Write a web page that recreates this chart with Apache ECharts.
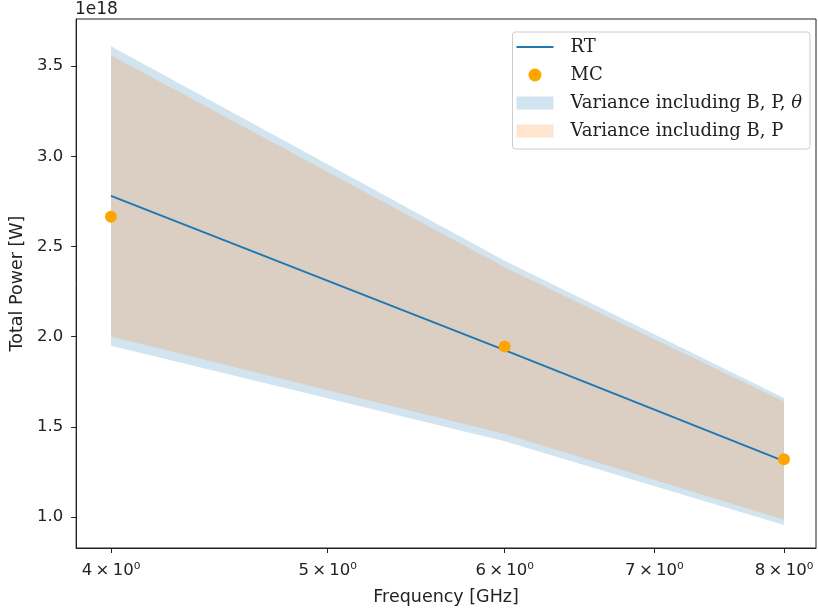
<!DOCTYPE html>
<html>
<head>
<meta charset="utf-8">
<script src="https://cdn.jsdelivr.net/npm/echarts@6/dist/echarts.min.js"></script>
<style>
  html, body { margin: 0; padding: 0; background: #fff; }
  #main { width: 818px; height: 612px; }
</style>
</head>
<body>
<div id="main"></div>
<script>
// values (y in W)
var freq = [4, 6, 8];
var rt = [2.78e18, 1.925e18, 1.31e18];
var mc = [2.665e18, 1.945e18, 1.32e18];
// variance including B, P, theta
var bpthLow = [1.95e18, 1.42e18, 0.955e18];
var bpthHigh = [3.61e18, 2.42e18, 1.66e18];
// variance including B, P
var bpLow = [2.0e18, 1.46e18, 0.985e18];
var bpHigh = [3.56e18, 2.385e18, 1.64e18];

var xTicks = [4, 5, 6, 7, 8];
var yTicks = [1.0e18, 1.5e18, 2.0e18, 2.5e18, 3.0e18, 3.5e18];

function pairs(xs, ys) {
    return xs.map(function (x, i) { return [x, ys[i]]; });
}

// band polygon drawn once through the axis scales
function bandRenderer(lo, hi, color) {
    return function (params, api) {
        if (params.dataIndex !== 0) return null;
        var pts = [];
        for (var i = 0; i < freq.length; i++) pts.push(api.coord([freq[i], hi[i]]));
        for (var j = freq.length - 1; j >= 0; j--) pts.push(api.coord([freq[j], lo[j]]));
        return {
            type: 'polygon',
            shape: { points: pts },
            style: { fill: color, opacity: 0.2, stroke: null }
        };
    };
}

var myChart = echarts.init(document.getElementById('main'));
var tickFont = { fontFamily: 'DejaVu Sans', fontSize: 16.5, color: '#222' };
var nameFont = { fontFamily: 'DejaVu Sans', fontSize: 17.5, color: '#222' };

var option = {
    animation: false,
    backgroundColor: '#fff',
    grid: {
        left: 76, right: 2, top: 19, bottom: 64,
        show: true, borderColor: '#222', borderWidth: 1
    },
    graphic: [{
        type: 'text', left: 75, top: 1,
        style: { text: '1e18', font: '17px DejaVu Sans', fill: '#222' }
    }],
    legend: {
        orient: 'vertical',
        right: 8, top: 32,
        padding: [6, 8, 9, 4],
        backgroundColor: '#fff',
        borderColor: '#ccc', borderWidth: 1, borderRadius: 3,
        itemWidth: 37, itemHeight: 13, itemGap: 10,
        textStyle: {
            fontFamily: 'DejaVu Serif', fontSize: 18, color: '#222',
            padding: [0, 0, 0, 12],
            rich: { it: { fontFamily: 'DejaVu Serif', fontStyle: 'italic', fontSize: 18, color: '#222' } }
        },
        formatter: function (name) {
            if (name === 'Variance including B, P, \u03b8') return 'Variance including B, P, {it|\u03b8}';
            return name;
        },
        data: [
            { name: 'RT', icon: 'path://M0,0L37,0L37,2.2L0,2.2Z', itemStyle: { color: '#1f77b4' } },
            { name: 'MC', icon: 'circle' },
            { name: 'Variance including B, P, \u03b8', icon: 'rect', itemStyle: { color: '#d2e4f0', opacity: 1 } },
            { name: 'Variance including B, P', icon: 'rect', itemStyle: { color: '#ffe5cf', opacity: 1 } }
        ]
    },
    xAxis: {
        type: 'log',
        logBase: 10,
        min: 3.859,
        max: 8.268,
        name: 'Frequency [GHz]',
        nameLocation: 'middle',
        nameGap: 40,
        nameTextStyle: nameFont,
        axisLine: { lineStyle: { color: '#222', width: 1 } },
        axisTick: { customValues: xTicks, length: 5, lineStyle: { color: '#222' } },
        axisLabel: Object.assign({
            customValues: xTicks,
            margin: 14,
            formatter: function (v) { return Math.round(v) + '\u2009\u00d7\u200910\u2070'; }
        }, tickFont),
        splitLine: { show: false },
        minorTick: { show: false }
    },
    yAxis: {
        type: 'value',
        min: 0.828e18,
        max: 3.761e18,
        name: 'Total Power [W]',
        nameLocation: 'middle',
        nameGap: 50,
        nameTextStyle: nameFont,
        axisLine: { show: true, lineStyle: { color: '#222', width: 1 } },
        axisTick: { show: true, customValues: yTicks, length: 5, lineStyle: { color: '#222' } },
        axisLabel: Object.assign({
            customValues: yTicks,
            margin: 13,
            formatter: function (v) { return (v / 1e18).toFixed(1); }
        }, tickFont),
        splitLine: { show: false }
    },
    series: [
        {
            name: 'Variance including B, P, \u03b8',
            type: 'custom',
            z: 1,
            itemStyle: { color: '#1f77b4' },
            renderItem: bandRenderer(bpthLow, bpthHigh, '#1f77b4'),
            data: freq.map(function (f) { return [f, 0]; }),
            encode: { x: 0 }
        },
        {
            name: 'Variance including B, P',
            type: 'custom',
            z: 1,
            itemStyle: { color: '#ff7f0e' },
            renderItem: bandRenderer(bpLow, bpHigh, '#ff7f0e'),
            data: freq.map(function (f) { return [f, 0]; }),
            encode: { x: 0 }
        },
        {
            name: 'RT',
            type: 'line',
            z: 3,
            symbol: 'none',
            color: '#1f77b4',
            lineStyle: { color: '#1f77b4', width: 2 },
            data: pairs(freq, rt)
        },
        {
            name: 'MC',
            type: 'scatter',
            z: 4,
            symbolSize: 12,
            itemStyle: { color: '#ffa500', opacity: 1 },
            data: pairs(freq, mc)
        }
    ]
};

myChart.setOption(option);
</script>
</body>
</html>
